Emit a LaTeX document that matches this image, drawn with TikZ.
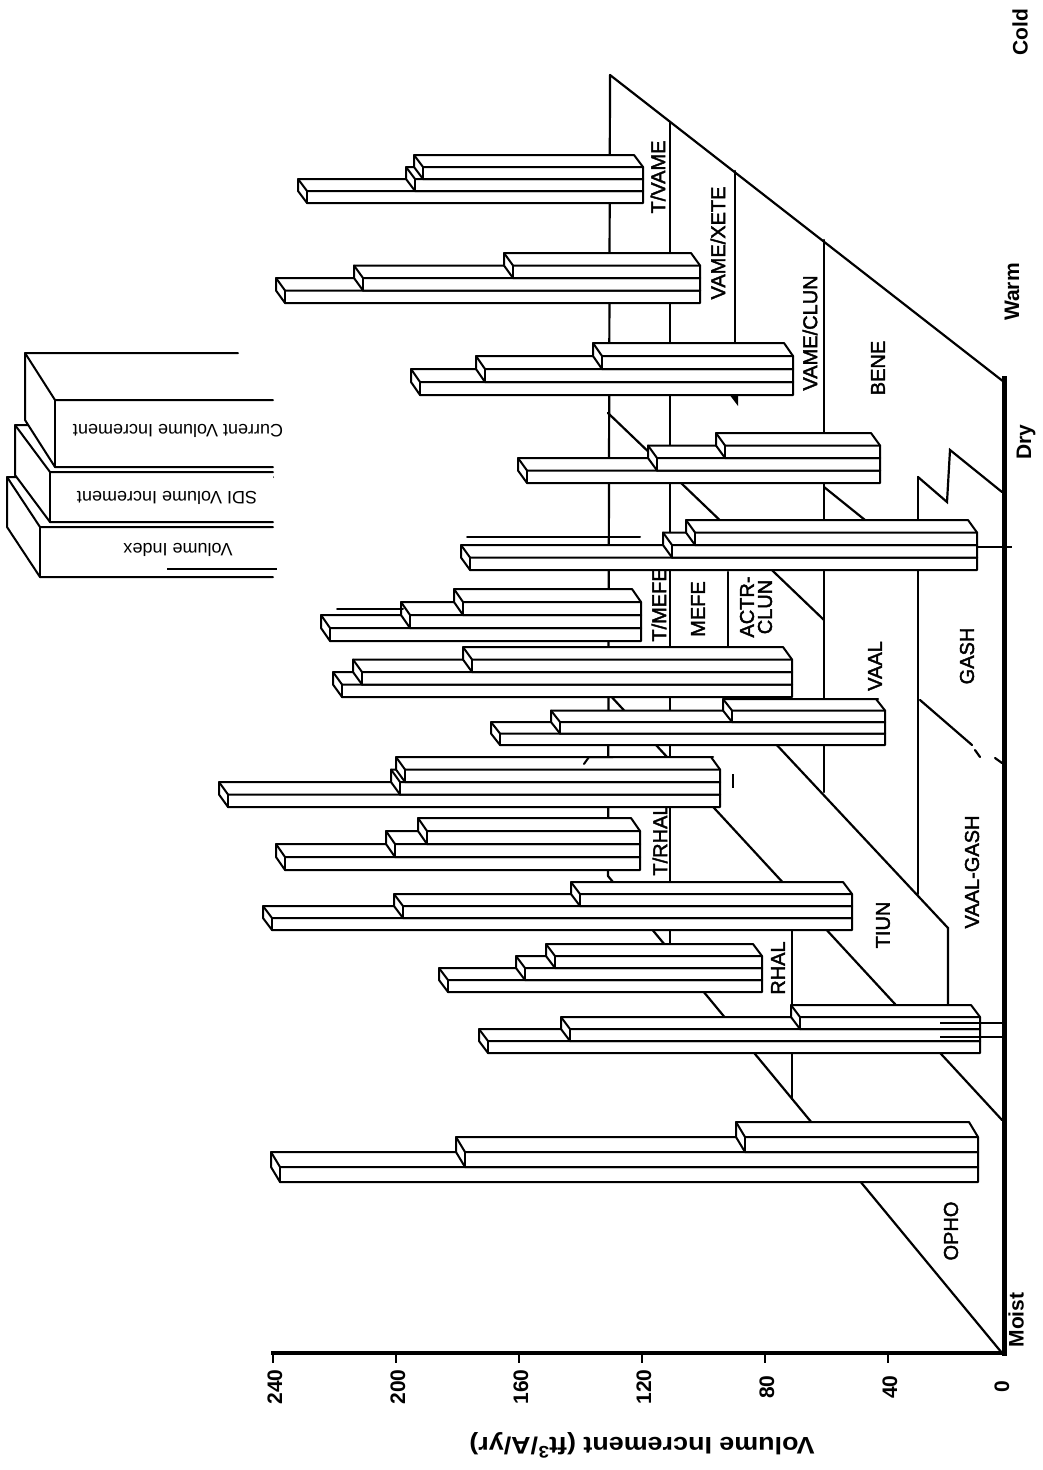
\documentclass[tikz,border=0pt]{standalone}
\usepackage{fontspec}
\setmainfont{Liberation Sans}
\newfontfamily\medfont[FakeBold=2]{Liberation Sans}
\tikzset{
  barfill/.style={fill=white,draw=black,line width=2pt,line join=round},
  barln/.style={draw=black,line width=2pt,line cap=round,line join=round},
  gl/.style={draw=black,line width=2.2pt,line cap=round},
  thin/.style={draw=black,line width=1.2pt},
  zone/.style={rotate=90,font=\medfont\fontsize{20}{20}\selectfont,inner sep=0pt},
  edge/.style={rotate=90,font=\bfseries\fontsize{21}{21}\selectfont,inner sep=0pt},
  tick/.style={rotate=90,font=\bfseries\fontsize{21}{21}\selectfont,inner sep=0pt},
  leg/.style={rotate=180,font=\fontsize{18}{18}\selectfont,inner sep=0pt}
}
\newcommand\bx[6]{% xL, x0, yb, h, dx, dy
  \filldraw[barfill] (#1,#3) -- ({#1+(#5)},{#3+(#6)}) -- ({#1+(#5)},{#3-(#4)+(#6)}) -- ({#2+(#5)},{#3-(#4)+(#6)}) -- (#2,{#3-(#4)}) -- (#2,#3) -- cycle;
  \draw[barln] ({#1+(#5)},{#3-(#4)+(#6)}) -- (#1,{#3-(#4)}) -- (#2,{#3-(#4)});
  \draw[barln] (#1,{#3-(#4)}) -- (#1,#3);
}
\newcommand\grp[6]{% Y, x0, h, L1, L2, L3
  \pgfmathsetmacro\gya{#1}\pgfmathsetmacro\gyb{#1-(#3)}\pgfmathsetmacro\gyc{#1-2*(#3)}\pgfmathsetmacro\gdy{-(#3)}
  \bx{#4}{#2}{\gya}{#3}{-9}{\gdy}
  \bx{#5}{#2}{\gyb}{#3}{-9}{\gdy}
  \bx{#6}{#2}{\gyc}{#3}{-9}{\gdy}
}
\newcommand\lbx[7]{% xL, xR, yt, yb, dx, dy, xRtop
  \fill[white] ({#1+(#5)},{#3+(#6)}) -- (#7,{#3+(#6)}) -- (#2,{#3+(#6)}) -- (#2,#4) -- (#1,#4) -- ({#1+(#5)},{#4+(#6)}) -- cycle;
  \draw[barln] (#7,{#3+(#6)}) -- ({#1+(#5)},{#3+(#6)}) -- ({#1+(#5)},{#4+(#6)}) -- (#1,#4) -- (#2,#4);
  \draw[barln] ({#1+(#5)},{#3+(#6)}) -- (#1,#3) -- (#2,#3);
  \draw[barln] (#1,#3) -- (#1,#4);
}
\begin{document}
\begin{tikzpicture}[x=1pt,y=-1pt]
\useasboundingbox (0,0) rectangle (1042,1470);
\fill[white] (0,0) rectangle (1042,1470);

% ---------------- ground plane ----------------
\draw[gl] (610,75) -- (1004,382);
\draw[gl] (610,75) -- (608,876);
\draw[gl] (608,876) -- (1002,1353);
\draw[gl] (670,122) -- (670,951);
\draw[gl] (735,171) -- (735,398);
\fill (729,394) -- (738,394) -- (738,406) -- cycle;
\draw[gl] (728,572) -- (728,647);
\draw[gl] (824,240) -- (824,792);
\draw[gl] (608,413) -- (824,620);
\draw[gl] (824,487) -- (870,524);
\draw[gl] (918,477) -- (918,894);
\draw[gl] (918,477) -- (947,502) -- (950,450) -- (1002,492);
\draw[gl] (920,700) -- (972,745);
\draw[gl] (975,750) -- (980,757);
\draw[gl] (995,758) -- (1002,763);
\draw[gl] (608,693) -- (1002,1120);
\draw[gl] (745,711) -- (948,928) -- (948,1005);
\draw[gl] (792,890) -- (792,1099);

% ---------------- axes ----------------
\draw[line width=5pt] (1004,376) -- (1004,1356);
\draw[line width=4.5pt] (271,1353) -- (1006,1353);
\foreach \k in {0,...,5} \draw[line width=2.5pt] ({273+123*\k},1353) -- ({273+123*\k},1363);
\foreach \k/\t in {0/240,1/200,2/160,3/120,4/80,5/40} \node[tick] at ({275+123*\k},1387) {\t};
\node[tick] at (1002,1387) {0};
\node[rotate=180,font=\bfseries\fontsize{24}{24}\selectfont,inner sep=0pt] at (642,1445) {\scalebox{1.12}[1]{Volume Increment (ft\textsuperscript{3}/A/yr)}};

% ---------------- zone and edge labels ----------------
\node[edge] at (1020,32) {Cold};
\node[edge] at (1012,292) {Warm};
\node[edge] at (1026,442) {Dry};
\node[edge] at (1016,1320) {Moist};
\node[zone] at (658,177) {T/VAME};
\node[zone] at (718,243) {VAME/XETE};
\node[zone] at (810,333) {VAME/CLUN};
\node[zone] at (878,368) {BENE};
\node[zone] at (659,605) {T/MEFE};
\node[zone] at (698,609) {MEFE};
\node[zone,align=center,font=\medfont\fontsize{20}{18}\selectfont] at (756,607) {ACTR-\\CLUN};
\node[zone] at (875,666) {VAAL};
\node[zone] at (967,656) {GASH};
\node[zone] at (972,872) {VAAL-GASH};
\node[zone] at (883,925) {TIUN};
\node[zone] at (778,968) {RHAL};
\node[zone] at (660,840) {T/RHAL};
\node[zone] at (951,1231) {OPHO};

% ---------------- bar groups (back to front) ----------------
\grp{641}{641}{13}{330}{410}{463}
\grp{203}{643}{12}{307}{415}{423}
\grp{870}{640}{13}{285}{395}{427}
\grp{303}{700}{12.5}{285}{363}{513}
\grp{807}{720}{12.5}{228}{400}{405}
\grp{992}{762}{12}{448}{525}{555}
\grp{697}{792}{12.5}{342}{362}{472}
\grp{395}{793}{13}{420}{485}{602}
\grp{930}{852}{12}{272}{403}{580}
\grp{483}{880}{12.5}{527}{657}{725}
\grp{745}{885}{11.5}{500}{560}{732}
\grp{570}{977}{12.5}{470}{672}{695}
\grp{1182}{978}{15}{280}{465}{745}
\grp{1053}{980}{12}{488}{570}{800}

% ---------------- stray marks ----------------
\draw[thin] (977,547) -- (1012,547);
\draw[thin] (940,1023) -- (1004,1023);
\draw[thin] (940,1037) -- (1004,1037);
\draw[line width=2pt] (733,774) -- (733,788);
\draw[barln] (613,757) -- (589,757) -- (584,764);
\draw[barln] (613,757) -- (713,757);
\draw[barln] (467,537) -- (640,537);
\draw[barln] (337,609) -- (403,609);
\draw[barln] (733,699) -- (878,699);

% ---------------- legend ----------------
\lbx{40}{273}{527}{577}{-33}{-50}{273}
\lbx{50}{273}{472}{522}{-35}{-47}{273}
\lbx{55}{273}{400}{467}{-30}{-47}{238}
\draw[line width=2.5pt] (167,569) -- (277,569);
\node[leg] at (178,431) {Current Volume Increment};
\node[leg] at (167,498) {SDI Volume Increment};
\node[leg] at (178,550) {Volume Index};
\end{tikzpicture}
\end{document}
